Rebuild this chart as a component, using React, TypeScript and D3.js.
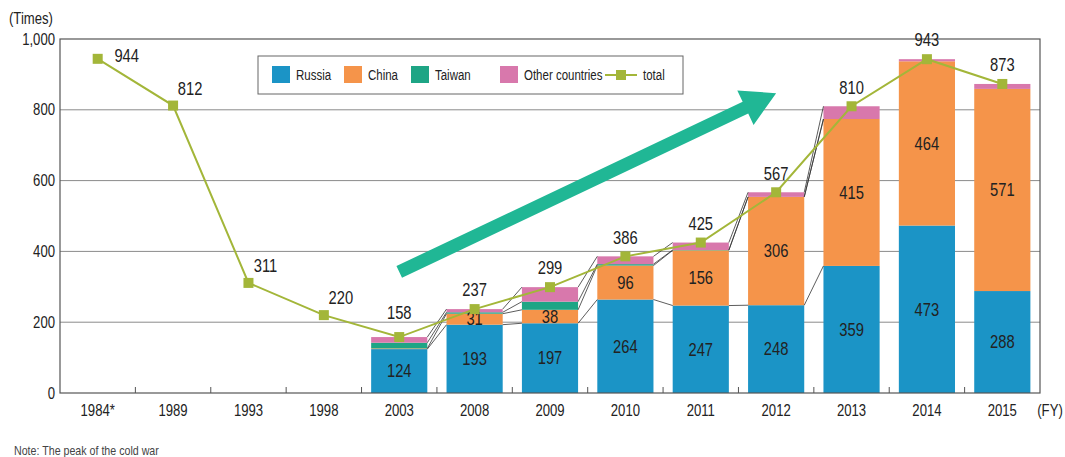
import React from "react";
import * as d3 from "d3";

const categories = ["1984*", "1989", "1993", "1998", "2003", "2008", "2009", "2010", "2011", "2012", "2013", "2014", "2015"];
const russia: (number | null)[] = [null, null, null, null, 124, 193, 197, 264, 247, 248, 359, 473, 288];
const china: (number | null)[] = [null, null, null, null, 2, 31, 38, 96, 156, 306, 415, 464, 571];
const taiwan: (number | null)[] = [null, null, null, null, 16, 4, 23, 4, 1, 0, 0, 0, 0];
const others: (number | null)[] = [null, null, null, null, 16, 9, 41, 22, 21, 13, 36, 6, 14];
const total = [944, 812, 311, 220, 158, 237, 299, 386, 425, 567, 810, 943, 873];
const yTicks = [0, 200, 400, 600, 800, 1000];
const seriesNames = ["Russia", "China", "Taiwan", "Other countries"];
const seriesColors = ["#1b94c6", "#f5944a", "#1ea585", "#d878ac"];
const totalColor = "#a3b639";
const arrowColor = "#20b795";
const arrowFrom = { cat: "2003", value: 342 };
const arrowTo = { cat: "2012", value: 847 };

const W = 1065;
const H = 457;
const FONT = "'Liberation Sans', Arial, sans-serif";
const SX = 0.82;

function T(props: { x: number; y: number; size: number; anchor?: "start" | "middle" | "end"; fill?: string; children: React.ReactNode }) {
  const { x, y, size, anchor = "start", fill = "#222", children } = props;
  return (
    <text transform={`translate(${x},${y}) scale(${SX},1)`} dy="0.35em" textAnchor={anchor} fontSize={size} fill={fill} fontFamily={FONT}>
      {children}
    </text>
  );
}

export default function App() {
  const left = 60, right = 1040, top = 39, bottom = 393;
  const x = d3.scaleBand<string>().domain(categories).range([left, right]).paddingInner(0.255).paddingOuter(0.1275);
  const step = x.step();
  const bw = x.bandwidth();
  const cx = (c: string) => (x(c) as number) + bw / 2;
  const y = d3.scaleLinear().domain([0, 1000]).range([bottom, top]);

  const series = [russia, china, taiwan, others];
  const stacks = categories.map((c, i) => {
    let acc = 0;
    const segs = series.map((s, k) => {
      const v = s[i];
      if (v == null) return null;
      const y0 = acc;
      acc += v;
      return { k, y0, y1: acc, v };
    });
    return { c, i, segs, has: russia[i] != null };
  });

  const line = d3.line<number>().x((_, i) => cx(categories[i])).y((d) => y(d));

  const connectors: JSX.Element[] = [];
  const lastConn = categories.indexOf("2013");
  for (let i = 0; i < lastConn; i++) {
    const a = stacks[i], b = stacks[i + 1];
    if (!a.has || !b.has) continue;
    const xa = (x(a.c) as number) + bw;
    const xb = x(b.c) as number;
    for (let k = 0; k < 4; k++) {
      const sa = a.segs[k]!, sb = b.segs[k]!;
      connectors.push(
        <line key={`cn${i}-${k}`} x1={xa} x2={xb} y1={y(sa.y1)} y2={y(sb.y1)} stroke="#333" strokeWidth={0.8} />
      );
    }
  }

  const ax0 = cx(arrowFrom.cat), ay0 = y(arrowFrom.value);
  const ax1 = cx(arrowTo.cat), ay1 = y(arrowTo.value);
  const ang = Math.atan2(ay1 - ay0, ax1 - ax0);
  const len = Math.hypot(ax1 - ax0, ay1 - ay0);
  const headL = 34, headW = 19, shaftW = 6.5;
  const arrowPts = [
    [0, -shaftW], [len - headL, -shaftW], [len - headL, -headW], [len, 0],
    [len - headL, headW], [len - headL, shaftW], [0, shaftW],
  ].map(([u, v]) => [ax0 + u * Math.cos(ang) - v * Math.sin(ang), ay0 + u * Math.sin(ang) + v * Math.cos(ang)]);

  const labelOffset = (i: number) => {
    if (i === 0) return { dx: 29, dy: -3 };
    if (i < 4) return { dx: 17, dy: -17 };
    if (categories[i] === "2003") return { dx: 0, dy: -24 };
    return { dx: 0, dy: -19 };
  };

  const legendItems = [
    { x: 272, label: seriesNames[0], k: 0 },
    { x: 344, label: seriesNames[1], k: 1 },
    { x: 411, label: seriesNames[2], k: 2 },
    { x: 500, label: seriesNames[3], k: 3 },
  ];

  return (
    <svg width={W} height={H} style={{ position: "absolute", left: 0, top: 0, background: "#fff" }}>
      {yTicks.filter((t) => t > 0 && t < 1000).map((t) => (
        <line key={`g${t}`} x1={left} x2={right} y1={y(t)} y2={y(t)} stroke="#8a8a8a" strokeWidth={1} />
      ))}
      {yTicks.map((t) => (
        <T key={`yt${t}`} x={55} y={y(t)} anchor="end" size={16}>{d3.format(",")(t)}</T>
      ))}
      <T x={9} y={18} size={16}>(Times)</T>

      {stacks.map((s) =>
        s.segs.map((g) =>
          g && g.v > 0 ? (
            <rect key={`b${s.i}-${g.k}`} x={x(s.c)} width={bw} y={y(g.y1)} height={y(g.y0) - y(g.y1)} fill={seriesColors[g.k]} />
          ) : null
        )
      )}
      {connectors}

      <rect x={left} y={top} width={right - left} height={bottom - top} fill="none" stroke="#555" strokeWidth={1.2} />
      {d3.range(1, categories.length).map((k) => (
        <line key={`tk${k}`} x1={left + k * step} x2={left + k * step} y1={bottom} y2={bottom - 6} stroke="#555" strokeWidth={1} />
      ))}

      <polygon points={arrowPts.map((p) => p.join(",")).join(" ")} fill={arrowColor} />

      {stacks.map((s) =>
        s.segs.map((g) =>
          g && g.k <= 1 && g.v >= 20 ? (
            <T key={`l${s.i}-${g.k}`} x={cx(s.c)} y={y((g.y0 + g.y1) / 2)} anchor="middle" size={18}>{g.v}</T>
          ) : null
        )
      )}

      <path d={line(total) as string} fill="none" stroke={totalColor} strokeWidth={2} />
      {total.map((v, i) => (
        <rect key={`m${i}`} x={cx(categories[i]) - 5} y={y(v) - 5} width={10} height={10} fill={totalColor} />
      ))}
      {total.map((v, i) => {
        const o = labelOffset(i);
        return (
          <T key={`tl${i}`} x={cx(categories[i]) + o.dx} y={y(v) + o.dy} anchor="middle" size={18}>{v}</T>
        );
      })}

      {categories.map((c) => (
        <T key={`xl${c}`} x={cx(c)} y={410} anchor="middle" size={16}>{c}</T>
      ))}
      <T x={1050} y={410} anchor="middle" size={16}>(FY)</T>

      <rect x={258} y={56} width={425} height={38} fill="#fff" stroke="#666" strokeWidth={1} />
      {legendItems.map((it) => (
        <g key={`lg${it.k}`}>
          <rect x={it.x} y={66} width={18} height={17} fill={seriesColors[it.k]} />
          <T x={it.x + 24} y={75} size={14}>{it.label}</T>
        </g>
      ))}
      <line x1={605} x2={637} y1={75} y2={75} stroke={totalColor} strokeWidth={2} />
      <rect x={616} y={70} width={10} height={10} fill={totalColor} />
      <T x={643} y={75} size={14}>total</T>

      <T x={14} y={450} size={13} fill="#444">Note: The peak of the cold war</T>
    </svg>
  );
}
